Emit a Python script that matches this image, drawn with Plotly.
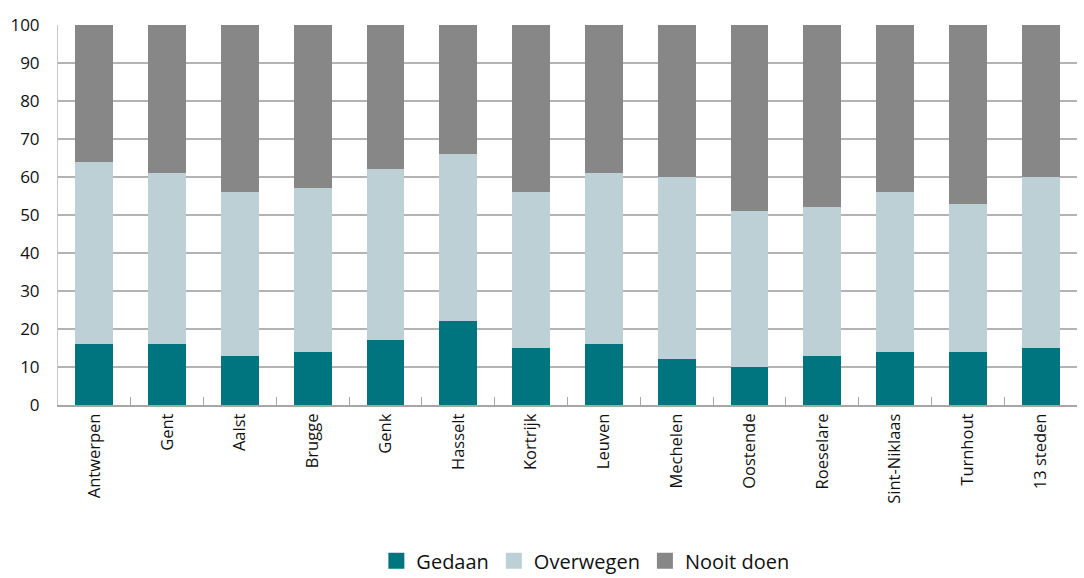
import plotly.graph_objects as go

# data (percentages)
steden = ["Antwerpen", "Gent", "Aalst", "Brugge", "Genk", "Hasselt", "Kortrijk",
          "Leuven", "Mechelen", "Oostende", "Roeselare", "Sint-Niklaas",
          "Turnhout", "13 steden"]
gedaan = [16, 16, 13, 14, 17, 22, 15, 16, 12, 10, 13, 14, 14, 15]
overwegen = [48, 45, 43, 43, 45, 44, 41, 45, 48, 41, 39, 42, 39, 45]
nooit_doen = [36, 39, 44, 43, 38, 34, 44, 39, 40, 49, 48, 44, 47, 40]
y_ticks = [0, 10, 20, 30, 40, 50, 60, 70, 80, 90, 100]

series = [("Gedaan", gedaan, "#00757F"),
          ("Overwegen", overwegen, "#BDD0D6"),
          ("Nooit doen", nooit_doen, "#878787")]

fig = go.Figure()
for name, vals, col in series:
    fig.add_trace(go.Bar(x=steden, y=vals, name=name, showlegend=False,
                         marker=dict(color=col, line=dict(width=0))))
# legend entries with bigger square swatches
for name, vals, col in series:
    fig.add_trace(go.Scatter(x=[None], y=[None], name=name, mode="markers",
                             marker=dict(symbol="square", size=18, color=col)))

fig.update_layout(
    barmode="stack",
    bargap=0.48,
    width=1084, height=578,
    margin=dict(l=58, r=7, t=25, b=173, autoexpand=False),
    plot_bgcolor="white",
    paper_bgcolor="white",
    font=dict(family="Open Sans", size=16.5, color="#111111"),
    legend=dict(orientation="h", xref="container",
                x=0.54, xanchor="center", y=-0.41, yanchor="middle",
                font=dict(size=20), traceorder="normal", itemwidth=30),
)
fig.update_xaxes(
    tickangle=-90,
    tickson="boundaries",
    ticks="inside", ticklen=8, tickcolor="#a6a6a6",
    showline=True, linecolor="#a6a6a6", linewidth=2,
    showgrid=False, automargin=False,
)
fig.update_yaxes(
    range=[0, 100],
    tickvals=y_ticks,
    tickfont=dict(size=17),
    showgrid=True, gridcolor="#b3b3b3", gridwidth=2,
    showline=True, linecolor="#c8c8c8", linewidth=1,
    ticks="", ticklabelstandoff=14,
    zeroline=False, automargin=False,
)

# drop the default page margin so the figure sits at the window corner
fig.write_html("out.html", config={"displayModeBar": False},
               post_script="document.body.style.margin='0';")
